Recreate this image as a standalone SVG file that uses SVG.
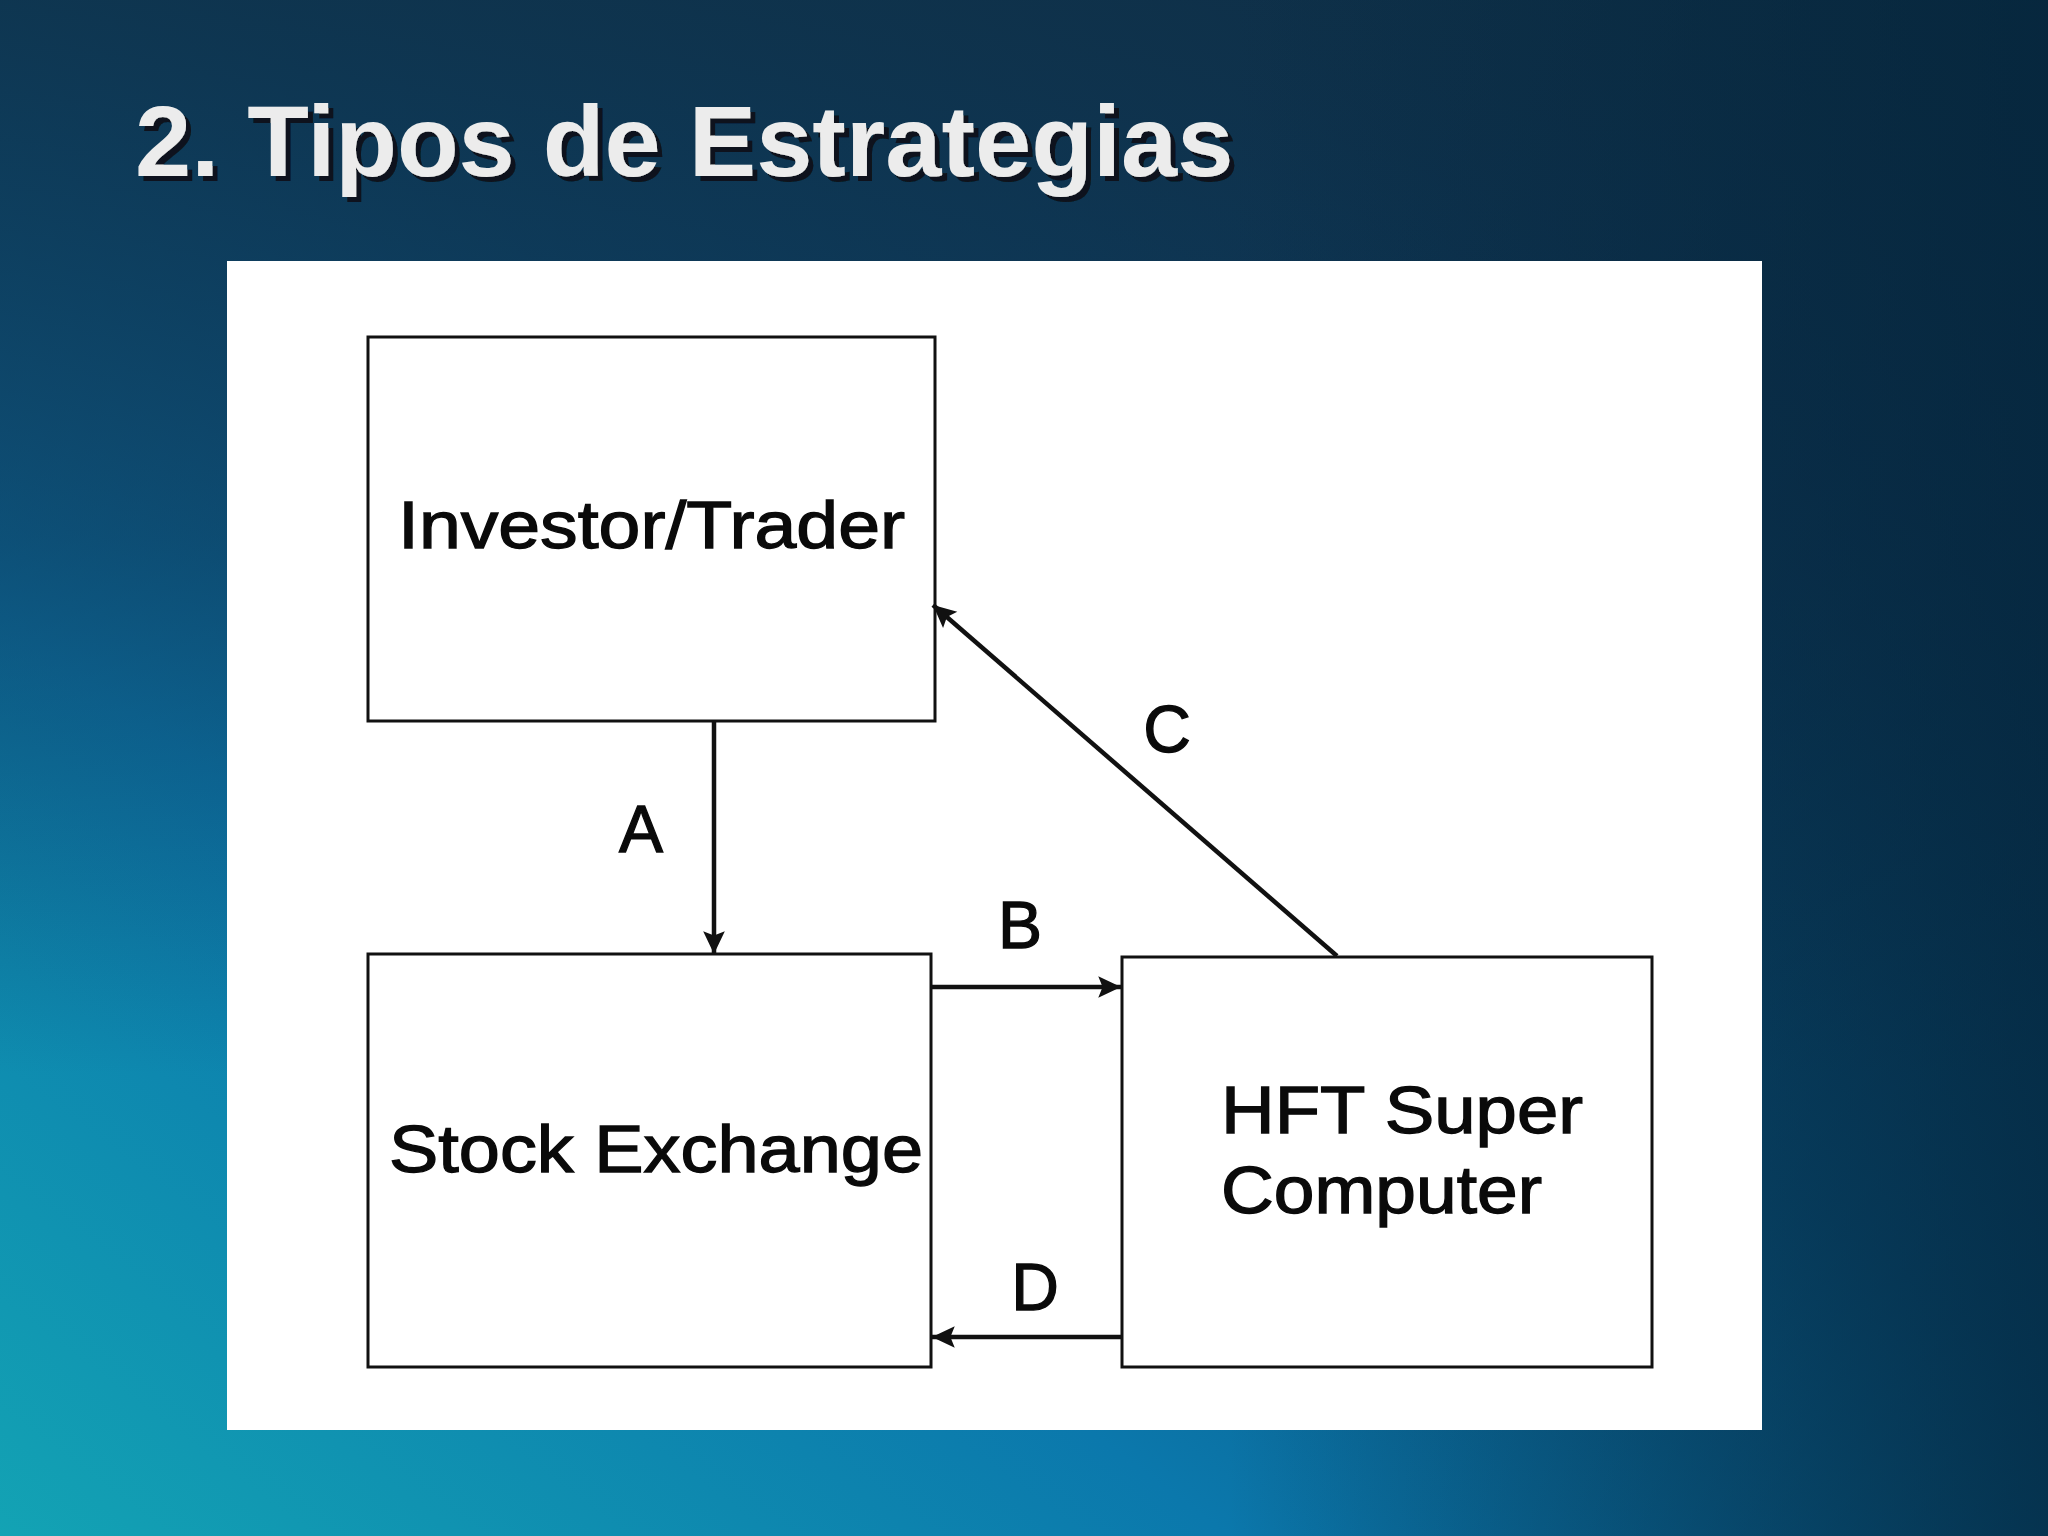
<svg xmlns="http://www.w3.org/2000/svg" width="2048" height="1536" viewBox="0 0 2048 1536">
  <defs>
    <linearGradient id="bgDiag" x1="0" y1="1" x2="1" y2="0">
      <stop offset="0" stop-color="#13a3b4"/>
      <stop offset="0.3" stop-color="#0b78ac"/>
      <stop offset="0.55" stop-color="#0a4f78"/>
      <stop offset="0.8" stop-color="#0c3553"/>
      <stop offset="1" stop-color="#0d2a40"/>
    </linearGradient>
    <linearGradient id="bgTop" x1="0" y1="0" x2="0" y2="1">
      <stop offset="0" stop-color="#0f3048" stop-opacity="0.85"/>
      <stop offset="0.35" stop-color="#0f3250" stop-opacity="0.55"/>
      <stop offset="0.7" stop-color="#0f3250" stop-opacity="0"/>
    </linearGradient>
    <linearGradient id="bgRight" x1="0" y1="0" x2="1" y2="0">
      <stop offset="0.6" stop-color="#03243a" stop-opacity="0"/>
      <stop offset="1" stop-color="#03243a" stop-opacity="0.7"/>
    </linearGradient>
    <filter id="shadow" x="-5%" y="-20%" width="110%" height="140%">
      <feOffset in="SourceAlpha" dx="5" dy="5" result="off"/>
      <feFlood flood-color="#0a0f14" flood-opacity="0.9"/>
      <feComposite in2="off" operator="in" result="sh"/>
      <feMerge>
        <feMergeNode in="sh"/>
        <feMergeNode in="SourceGraphic"/>
      </feMerge>
    </filter>
    <marker id="arrow" markerUnits="userSpaceOnUse" markerWidth="26" markerHeight="26" viewBox="-22 -12 24 24" refX="0" refY="0" orient="auto">
      <path d="M0,0 L-21,-10 L-17,0 L-21,10 Z" fill="#111"/>
    </marker>
    <style>
      .box { fill: #ffffff; stroke: #111111; stroke-width: 3; }
      .label { font-family: "Liberation Sans", Arial, sans-serif; font-size: 66px; fill: #0a0a0a; stroke: #0a0a0a; stroke-width: 1.3; }
      .conn { stroke: #111111; stroke-width: 4.5; fill: none; marker-end: url(#arrow); }
      .title { font-family: "Liberation Sans", Arial, sans-serif; font-size: 101px; font-weight: bold; fill: #ececec; }
    </style>
  </defs>

  <g id="background">
    <rect x="0" y="0" width="2048" height="1536" fill="url(#bgDiag)"/>
    <rect x="0" y="0" width="2048" height="1536" fill="url(#bgTop)"/>
    <rect x="0" y="0" width="2048" height="1536" fill="url(#bgRight)"/>
  </g>

  <g id="title">
    <text class="title" x="135" y="176" filter="url(#shadow)">2. Tipos de Estrategias</text>
  </g>

  <rect id="panel" x="227" y="261" width="1535" height="1169" fill="#ffffff"/>

  <g id="investor">
    <rect class="box" x="368" y="337" width="567" height="384"/>
    <text class="label" x="398" y="548" textLength="507" lengthAdjust="spacingAndGlyphs">Investor/Trader</text>
  </g>

  <g id="stock-exchange">
    <rect class="box" x="368" y="954" width="563" height="413"/>
    <text class="label" x="389" y="1172" textLength="534" lengthAdjust="spacingAndGlyphs">Stock Exchange</text>
  </g>

  <g id="hft">
    <rect class="box" x="1122" y="957" width="530" height="410"/>
    <text class="label" x="1221" y="1133" textLength="362" lengthAdjust="spacingAndGlyphs">HFT Super</text>
    <text class="label" x="1221" y="1213" textLength="321" lengthAdjust="spacingAndGlyphs">Computer</text>
  </g>

  <g id="connectors">
    <line class="conn" x1="714" y1="721" x2="714" y2="954"/>
    <line class="conn" x1="932" y1="987" x2="1121" y2="987"/>
    <line class="conn" x1="1337" y1="956" x2="933" y2="605"/>
    <line class="conn" x1="1122" y1="1337" x2="932" y2="1337"/>
    <text class="label" x="641" y="852" text-anchor="middle">A</text>
    <text class="label" x="1020" y="948" text-anchor="middle">B</text>
    <text class="label" x="1167" y="752" text-anchor="middle">C</text>
    <text class="label" x="1035" y="1310" text-anchor="middle">D</text>
  </g>
</svg>
